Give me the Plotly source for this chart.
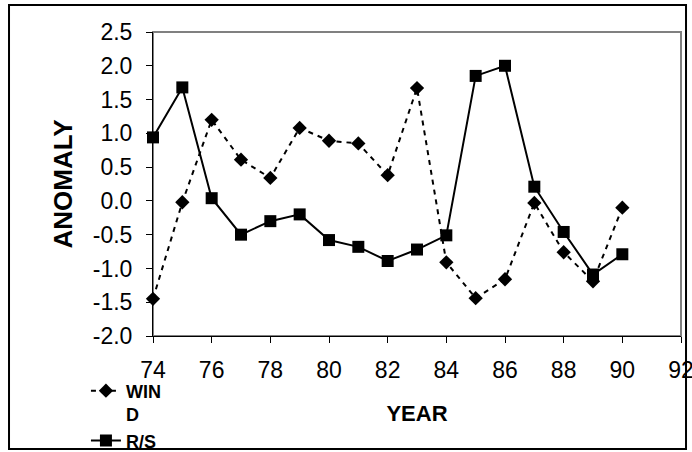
import plotly.graph_objects as go

years = [74, 75, 76, 77, 78, 79, 80, 81, 82, 83, 84, 85, 86, 87, 88, 89, 90]
wind = [-1.45, -0.02, 1.20, 0.61, 0.34, 1.08, 0.89, 0.85, 0.38, 1.67,
        -0.91, -1.44, -1.16, -0.03, -0.76, -1.19, -0.10]
rs = [0.94, 1.68, 0.04, -0.50, -0.30, -0.20, -0.58, -0.68, -0.89, -0.72,
      -0.51, 1.85, 2.00, 0.21, -0.46, -1.09, -0.79]

x_tick_vals = [74, 76, 78, 80, 82, 84, 86, 88, 90, 92]
x_tick_text = ["74", "76", "78", "80", "82", "84", "86", "88", "90", "92"]
y_tick_vals = [2.5, 2.0, 1.5, 1.0, 0.5, 0.0, -0.5, -1.0, -1.5, -2.0]
y_tick_text = ["2.5", "2.0", "1.5", "1.0", "0.5", "0.0", "-0.5", "-1.0", "-1.5", "-2.0"]

FONT = "Liberation Sans, Arial, sans-serif"

fig = go.Figure()
fig.add_trace(go.Scatter(
    x=years, y=wind, name="<b>WIN<br>D</b>", mode="lines+markers",
    line=dict(color="black", width=2, dash="5px,5px"),
    marker=dict(symbol="diamond", size=11, color="black"),
    cliponaxis=False,
))
fig.add_trace(go.Scatter(
    x=years, y=rs, name="<b>R/S</b>", mode="lines+markers",
    line=dict(color="black", width=2),
    marker=dict(symbol="square", size=12, color="black"),
    cliponaxis=False,
))

fig.update_layout(
    width=692, height=452,
    margin=dict(l=153, r=11, t=32, b=116, autoexpand=False),
    paper_bgcolor="white", plot_bgcolor="white",
    font=dict(family=FONT, color="black"),
    showlegend=True,
    legend=dict(
        x=-0.127, xanchor="left", y=-0.12, yanchor="top",
        font=dict(size=18, family=FONT, color="black"),
        valign="top", tracegroupgap=0, bgcolor="rgba(0,0,0,0)",
    ),
    xaxis=dict(
        range=[74, 92], tickvals=x_tick_vals, ticktext=x_tick_text,
        ticks="outside", ticklen=6, tickcolor="black", tickwidth=1,
        showline=True, linecolor="black", linewidth=1,
        showgrid=False, zeroline=False, automargin=False,
        ticklabeloverflow="allow", ticklabelstandoff=7,
        tickfont=dict(size=23, family=FONT, color="black"),
        title=dict(text="<b>YEAR</b>", font=dict(size=22, family=FONT, color="black"), standoff=24),
    ),
    yaxis=dict(
        range=[-2.0, 2.5], tickvals=y_tick_vals, ticktext=y_tick_text,
        ticks="outside", ticklen=6, tickcolor="black", tickwidth=1,
        showline=True, linecolor="black", linewidth=1,
        showgrid=False, zeroline=False, automargin=False,
        ticklabelstandoff=9,
        tickfont=dict(size=23, family=FONT, color="black"),
        title=dict(text="<b>ANOMALY</b>", font=dict(size=26, family=FONT, color="black"), standoff=12),
    ),
    shapes=[
        dict(type="rect", xref="paper", yref="paper", x0=0, x1=1, y0=0, y1=1,
             line=dict(color="#808080", width=2), layer="below"),
        dict(type="rect", xref="paper", yref="paper",
             x0=-0.2727, x1=1.0095, y0=-0.3717, y1=1.0888,
             line=dict(color="black", width=2), layer="above"),
    ],
)

fig.write_html("out.html", config={"displayModeBar": False},
               post_script="document.body.style.margin='0px';")
